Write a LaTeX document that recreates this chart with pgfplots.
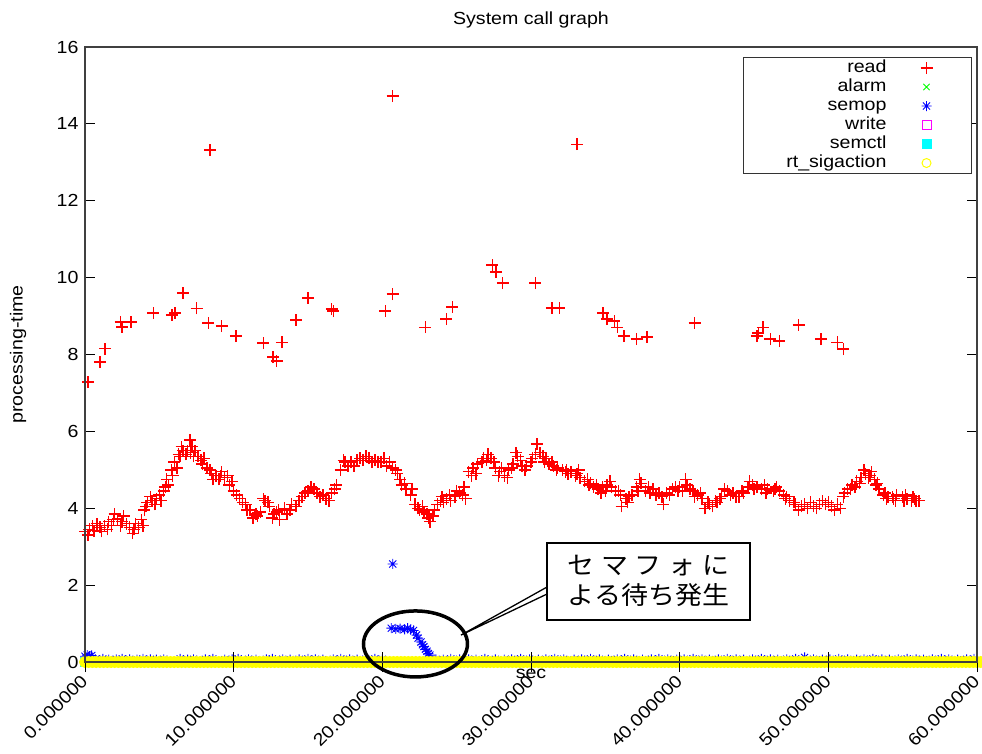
\documentclass[border=0pt]{standalone}
\usepackage{fontspec}
\setmainfont{Liberation Sans}[FakeStretch=1.12]
\newfontfamily\jpfont{Noto Sans CJK JP}[FakeStretch=1.08]
\usepackage{pgfplots}
\pgfplotsset{compat=1.18}
\usetikzlibrary{calc}

\definecolor{gpred}{RGB}{255,0,0}
\definecolor{gpgreen}{RGB}{0,255,0}
\definecolor{gpblue}{RGB}{0,0,255}
\definecolor{gpmagenta}{RGB}{255,0,255}
\definecolor{gpcyan}{RGB}{0,255,255}
\definecolor{gpyellow}{RGB}{255,255,0}

% point marks that carry their own stroke colour
\makeatletter
\pgfdeclareplotmark{gpplus}{%
  \pgfsys@beginscope\pgfsys@color@rgb@stroke{1}{0}{0}%
  \pgfpathmoveto{\pgfqpoint{-\pgfplotmarksize}{0pt}}%
  \pgfpathlineto{\pgfqpoint{\pgfplotmarksize}{0pt}}%
  \pgfpathmoveto{\pgfqpoint{0pt}{-\pgfplotmarksize}}%
  \pgfpathlineto{\pgfqpoint{0pt}{\pgfplotmarksize}}%
  \pgfusepathqstroke\pgfsys@endscope}
% gnuplot-style asterisk: plus and cross overlaid
\pgfdeclareplotmark{gpstar}{%
  \pgfsys@beginscope\pgfsys@color@rgb@stroke{0}{0}{1}%
  \pgfpathmoveto{\pgfqpoint{-\pgfplotmarksize}{0pt}}%
  \pgfpathlineto{\pgfqpoint{\pgfplotmarksize}{0pt}}%
  \pgfpathmoveto{\pgfqpoint{0pt}{-\pgfplotmarksize}}%
  \pgfpathlineto{\pgfqpoint{0pt}{\pgfplotmarksize}}%
  \pgfpathmoveto{\pgfqpoint{-0.707\pgfplotmarksize}{-0.707\pgfplotmarksize}}%
  \pgfpathlineto{\pgfqpoint{0.707\pgfplotmarksize}{0.707\pgfplotmarksize}}%
  \pgfpathmoveto{\pgfqpoint{-0.707\pgfplotmarksize}{0.707\pgfplotmarksize}}%
  \pgfpathlineto{\pgfqpoint{0.707\pgfplotmarksize}{-0.707\pgfplotmarksize}}%
  \pgfusepathqstroke\pgfsys@endscope}
\makeatother

% legend sample: a single mark placed in a wide cell
\pgfplotsset{
  key mark/.style={legend image code/.code={\path[draw=none,fill=none] (0bp,-5bp) rectangle (83bp,5bp);
    \draw[##1] plot coordinates {(40bp,0bp)};}},
  thin key mark/.style={legend image code/.code={\path[draw=none,fill=none] (0bp,-5bp) rectangle (83bp,5bp);
    \draw[##1, mark options={line width=1bp, mark size=4.5bp}] plot coordinates {(40bp,0bp)};}},
}

\begin{document}
\begin{tikzpicture}[font=\fontsize{17.5bp}{21bp}\selectfont]
\begin{axis}[
  set layers, axis on top,
  scale only axis, width=892bp, height=615bp,
  xmin=0, xmax=60, ymin=0, ymax=16,
  clip=false,
  axis line style={draw=black!75, line width=1.1bp},
  every tick/.style={black, line width=0.9bp},
  major tick length=10bp, tick align=inside,
  xtick={0,10,...,60},
  xticklabels={0.000000,10.000000,20.000000,30.000000,40.000000,50.000000,60.000000},
  extra x ticks={0,10,...,60}, extra x tick labels={},
  extra x tick style={tick align=outside},
  xtick pos=bottom, ytick pos=both,
  ytick={0,2,...,16},
  /pgf/number format/assume math mode=true,
  yticklabel style={xshift=-3bp},
  xticklabel style={xshift=-5bp, yshift=-10bp, rotate=45, anchor=north east, inner sep=1bp},
  title={System call graph},
  title style={at={(axis description cs:0.5,1)}, anchor=base, yshift=17bp},
  xlabel={sec},
  xlabel style={at={(axis description cs:0.5,0)}, anchor=base, yshift=-16bp},
  ylabel={processing-time},
  ylabel style={at={(axis description cs:-0.0751,0.5)}, anchor=center},
  legend plot pos=right,
  legend cell align=right,
  key mark,
  legend style={at={(0.9944,0.9837)}, anchor=north east, draw=black!80,
    line width=1bp, fill=white, inner xsep=2bp, inner ysep=2bp, row sep=2bp,
    nodes={inner sep=0pt, text width=141bp, align=right, text height=13bp, text depth=4bp}},
]

% read
\addplot[only marks, mark=gpplus, mark size=6bp, draw=gpred, mark options={line width=1.4bp}] coordinates {
(0.0,3.40)(0.3,3.45)(0.6,3.42)(1.0,3.50)(1.3,3.55)(1.6,3.65)(1.9,3.70)(2.2,3.72)(2.5,3.65)(2.8,3.60)
(3.0,3.50)(3.3,3.45)(3.6,3.50)(3.8,3.70)(4.0,3.95)(4.2,4.15)(4.5,4.20)(4.8,4.25)(5.0,4.35)(5.3,4.45)
(5.5,4.75)(5.8,5.00)(6.0,5.20)(6.3,5.40)(6.6,5.50)(6.9,5.50)(7.1,5.45)(7.4,5.50)(7.6,5.35)(7.9,5.15)
(8.2,5.05)(8.5,4.90)(8.8,4.85)(9.1,4.85)(9.4,4.80)(9.7,4.60)(10.0,4.45)(10.4,4.25)(10.8,4.10)(11.1,3.95)
(11.5,3.85)(11.8,3.90)(12.1,4.20)(12.4,4.05)(12.7,3.85)(13.0,3.95)(13.4,4.00)(13.8,3.95)(14.2,4.05)(14.6,4.30)
(15.0,4.45)(15.4,4.50)(15.8,4.30)(16.2,4.25)(16.6,4.40)(16.9,4.60)(17.2,5.00)(17.5,5.20)(17.9,5.20)(18.3,5.25)
(18.7,5.25)(19.1,5.30)(19.5,5.25)(19.9,5.20)(20.3,5.10)(20.7,5.05)(21.0,4.90)(21.3,4.60)(21.6,4.50)(21.9,4.35)
(22.2,4.10)(22.5,3.95)(22.8,3.90)(23.1,3.75)(23.4,3.80)(23.7,4.10)(24.0,4.30)(24.3,4.25)(24.6,4.20)(24.9,4.30)
(25.2,4.40)(25.5,4.55)(25.8,4.95)(26.1,5.05)(26.4,5.15)(26.7,5.20)(27.0,5.25)(27.3,5.30)(27.6,5.05)(27.9,4.95)
(28.2,4.85)(28.5,5.00)(28.8,5.15)(29.1,5.35)(29.4,5.10)(29.7,5.10)(30.0,5.20)(30.3,5.40)(30.6,5.45)(30.9,5.20)
(31.2,5.15)(31.5,5.10)(31.8,5.05)(32.1,5.00)(32.4,5.00)(32.7,4.95)(33.0,4.85)(33.3,4.80)(33.6,4.70)(33.9,4.60)
(34.2,4.55)(34.5,4.50)(34.8,4.55)(35.1,4.60)(35.4,4.55)(35.7,4.45)(36.0,4.35)(36.4,4.25)(36.8,4.35)(37.1,4.55)
(37.4,4.65)(37.7,4.45)(38.0,4.40)(38.4,4.35)(38.8,4.30)(39.1,4.40)(39.5,4.50)(39.9,4.45)(40.2,4.45)(40.5,4.60)
(40.9,4.45)(41.2,4.35)(41.5,4.25)(41.9,4.15)(42.2,4.05)(42.5,4.15)(42.8,4.30)(43.2,4.45)(43.6,4.40)(44.0,4.30)
(44.3,4.40)(44.6,4.55)(44.9,4.60)(45.2,4.55)(45.5,4.50)(45.9,4.50)(46.3,4.45)(46.7,4.45)(47.0,4.35)(47.4,4.20)
(47.8,4.10)(48.2,4.05)(48.6,4.00)(49.0,4.05)(49.4,4.10)(49.8,4.10)(50.2,4.05)(50.6,4.10)(51.0,4.30)(51.3,4.50)
(51.6,4.60)(51.9,4.70)(52.2,4.80)(52.5,4.90)(52.8,4.85)(53.1,4.75)(53.4,4.50)(53.7,4.35)(54.0,4.30)(54.3,4.30)
(54.6,4.35)(55.0,4.30)(55.3,4.25)(55.6,4.20)(55.9,4.20)(56.1,4.20)
(0.2,3.30)(0.8,3.60)(1.5,3.45)(2.0,3.85)(2.4,3.55)(3.2,3.35)(3.9,3.55)(4.4,4.30)(5.1,4.20)(5.6,4.60)
(6.2,5.05)(6.5,5.60)(7.06,5.78)(7.3,5.35)(8.0,5.30)(8.6,4.75)(9.2,4.95)(9.9,4.70)(10.6,4.15)(11.3,3.75)
(12.0,4.25)(12.6,3.75)(13.1,3.70)(13.9,4.10)(14.8,4.40)(15.6,4.40)(16.4,4.20)(17.4,5.25)(18.1,5.10)(18.9,5.35)
(19.7,5.20)(20.5,5.20)(21.2,4.75)(22.0,4.50)(22.7,4.05)(23.2,3.65)(23.5,3.95)(24.1,4.15)(25.0,4.45)(25.6,4.25)
(26.3,4.90)(27.1,5.40)(27.8,4.85)(28.4,4.80)(29.0,5.45)(29.6,5.00)(30.4,5.67)(31.0,5.30)(31.7,5.00)(32.5,4.90)
(33.2,5.00)(34.0,4.65)(34.7,4.40)(35.3,4.70)(36.1,4.05)(36.6,4.30)(37.3,4.75)(38.2,4.50)(38.9,4.10)(39.7,4.55)
(40.4,4.75)(41.0,4.30)(41.7,4.00)(42.4,4.20)(43.0,4.50)(43.8,4.30)(44.7,4.70)(45.7,4.60)(46.5,4.55)(47.2,4.30)
(48.0,3.95)(48.8,4.15)(49.6,4.20)(50.4,3.95)(51.1,4.40)(51.8,4.55)(52.4,5.00)(52.9,4.95)(53.3,4.65)(53.9,4.25)
(54.5,4.20)(55.2,4.35)(55.8,4.25)
(0.5,3.55)(1.1,3.40)(1.8,3.55)(2.6,3.80)(3.4,3.60)(4.1,4.05)(4.7,4.10)(5.4,4.55)(5.9,4.85)(6.4,5.35)
(6.8,5.40)(7.2,5.60)(7.8,5.25)(8.4,5.00)(9.0,4.75)(9.6,4.85)(10.2,4.35)(10.9,3.95)(11.6,3.80)(12.3,4.15)
(12.9,3.90)(13.6,3.85)(14.4,4.20)(15.2,4.55)(16.0,4.35)(16.8,4.50)(17.7,5.10)(18.5,5.30)(19.3,5.20)(20.1,5.30)
(20.9,5.00)(21.5,4.65)(22.4,4.00)(23.0,3.85)(23.9,4.20)(24.5,4.35)(25.4,4.35)(26.0,4.85)(26.8,5.30)(27.5,5.20)
(28.0,5.05)(28.7,5.05)(29.3,5.25)(30.1,5.30)(30.8,5.35)(31.4,5.20)(32.3,4.95)(33.1,4.90)(33.8,4.75)(34.4,4.60)
(35.0,4.45)(35.9,4.45)(36.5,4.15)(37.2,4.45)(37.9,4.55)(38.6,4.40)(39.3,4.35)(40.0,4.55)(40.7,4.50)(41.4,4.40)
(42.0,4.10)(42.7,4.25)(43.4,4.35)(44.2,4.45)(45.0,4.50)(45.8,4.40)(46.4,4.50)(47.1,4.25)(47.7,4.15)(48.4,4.10)
(49.2,4.00)(50.0,4.15)(50.8,4.00)(51.5,4.50)(52.1,4.65)(52.7,4.80)(53.2,4.60)(53.8,4.40)(54.4,4.25)(55.1,4.20)
(55.7,4.30)
(0.2,7.28)(1.0,7.80)(1.35,8.15)(2.4,8.85)(2.5,8.72)(3.1,8.85)(4.6,9.08)(5.85,9.03)(6.05,9.08)(6.6,9.60)
(7.5,9.20)(8.3,8.82)(8.4,13.32)(9.2,8.74)(10.15,8.48)(12.0,8.30)(12.65,7.93)(12.9,7.83)(13.25,8.32)(14.2,8.90)
(15.0,9.47)(16.6,9.18)(16.7,9.13)(20.2,9.13)(20.7,9.57)(20.7,14.72)(22.9,8.71)(24.3,8.92)(24.7,9.24)(27.4,10.33)
(27.65,10.15)(28.1,9.86)(30.3,9.86)(31.4,9.21)(31.9,9.21)(33.1,13.47)(34.85,9.08)(35.1,8.92)(35.6,8.87)(35.8,8.71)
(36.25,8.48)(37.1,8.40)(37.8,8.46)(41.0,8.82)(45.2,8.48)(45.3,8.56)(45.6,8.71)(46.1,8.40)(46.7,8.35)(48.0,8.77)
(49.5,8.40)(50.6,8.32)(51.0,8.14)
};
\addlegendentry{read}

% alarm
\addplot[only marks, mark=x, mark size=4.5bp, color=gpgreen, mark options={draw=gpgreen, line width=0.8bp}] coordinates {
(0.1,0)(15.2,0.01)(30.3,0)(45.4,0.01)
};
\addlegendentry{alarm}

% semop
\addplot[only marks, mark=gpstar, mark size=5bp, draw=gpblue, mark options={line width=0.9bp}] coordinates {
(0.0,0.15)(0.15,0.18)(0.3,0.15)(0.45,0.17)
(20.7,2.55)
(20.6,0.88)(20.9,0.86)(21.2,0.87)(21.5,0.85)(21.7,0.88)(21.9,0.84)(22.1,0.82)(22.3,0.70)(22.4,0.62)(22.6,0.52)
(22.7,0.45)(22.8,0.40)(22.9,0.33)(23.0,0.28)(23.1,0.22)(23.2,0.18)
(48.4,0.12)
(0.7,0.07)(1.2,0.08)(1.6,0.06)(2.1,0.07)(2.5,0.08)(3.0,0.07)(3.5,0.06)(3.9,0.08)(4.4,0.07)(4.8,0.06)
(5.3,0.07)(6.4,0.08)(6.9,0.06)(7.3,0.07)(8.1,0.07)(8.6,0.08)(9.4,0.06)(9.9,0.07)(10.3,0.08)(11.0,0.07)
(11.5,0.06)(12.2,0.07)(12.6,0.08)(13.3,0.07)(13.8,0.06)(14.4,0.07)(15.0,0.08)(15.5,0.07)(16.0,0.06)(16.7,0.07)
(17.2,0.08)(17.8,0.07)(18.3,0.06)(18.9,0.07)(19.5,0.08)(20.0,0.07)(23.6,0.07)(24.1,0.06)(24.6,0.08)(25.2,0.07)
(25.8,0.07)(26.3,0.06)(26.9,0.08)(27.6,0.07)(28.2,0.06)(28.7,0.07)(29.3,0.08)(29.9,0.07)(30.5,0.06)(31.0,0.07)
(31.6,0.08)(32.2,0.07)(32.9,0.06)(33.4,0.07)(34.0,0.08)(34.6,0.07)(35.2,0.06)(35.8,0.07)(36.3,0.08)(36.9,0.07)
(37.5,0.06)(38.1,0.07)(38.6,0.08)(39.2,0.07)(39.8,0.06)(40.3,0.07)(40.9,0.08)(41.5,0.07)(42.0,0.06)(42.6,0.07)
(43.2,0.08)(43.8,0.07)(44.3,0.06)(44.9,0.07)(45.5,0.08)(46.1,0.07)(46.6,0.06)(47.2,0.07)(47.8,0.08)(49.0,0.07)
(49.6,0.06)(50.1,0.07)(50.7,0.08)(51.3,0.07)(51.9,0.06)(52.4,0.07)(53.0,0.08)(53.6,0.07)(54.1,0.06)(54.7,0.07)
(55.3,0.08)(55.9,0.07)(56.4,0.06)(57.0,0.07)(57.6,0.08)(58.1,0.07)(58.7,0.06)(59.3,0.07)(59.8,0.08)
};
\addlegendentry{semop}

% write
\addplot[only marks, mark=square, mark size=4.5bp, color=gpmagenta, mark options={draw=gpmagenta, line width=1bp}] coordinates {
(0.2,0)(12.6,0)(27.8,0)(41.5,0)(55.0,0)
};
\addlegendentry{write}

% semctl
\addplot[only marks, mark=square*, mark size=4.5bp, color=gpcyan, mark options={draw=gpcyan, fill=gpcyan}] coordinates {
(0.0,0.02)(18.4,0)(21.4,0)(22.4,0)(27.8,0)(57.0,0)
};
\addlegendentry{semctl}

% rt_sigaction
\addplot[only marks, mark=o, mark size=4bp, color=gpyellow, mark options={draw=gpyellow, line width=3.8bp}, thin key mark] coordinates {
(0,0)(0.25,0)(0.5,0)(0.75,0)(1,0)(1.25,0)(1.5,0)(1.75,0)(2,0)(2.25,0)(2.5,0)(2.75,0)
(3,0)(3.25,0)(3.5,0)(3.75,0)(4,0)(4.25,0)(4.5,0)(4.75,0)(5,0)(5.25,0)(5.5,0)(5.75,0)
(6,0)(6.25,0)(6.5,0)(6.75,0)(7,0)(7.25,0)(7.5,0)(7.75,0)(8,0)(8.25,0)(8.5,0)(8.75,0)
(9,0)(9.25,0)(9.5,0)(9.75,0)(10,0)(10.25,0)(10.5,0)(10.75,0)(11,0)(11.25,0)(11.5,0)(11.75,0)
(12,0)(12.25,0)(12.5,0)(12.75,0)(13,0)(13.25,0)(13.5,0)(13.75,0)(14,0)(14.25,0)(14.5,0)(14.75,0)
(15,0)(15.25,0)(15.5,0)(15.75,0)(16,0)(16.25,0)(16.5,0)(16.75,0)(17,0)(17.25,0)(17.5,0)(17.75,0)
(18,0)(18.25,0)(18.5,0)(18.75,0)(19,0)(19.25,0)(19.5,0)(19.75,0)(20,0)(20.25,0)(20.5,0)(20.75,0)
(21,0)(21.25,0)(21.5,0)(21.75,0)(22,0)(22.25,0)(22.5,0)(22.75,0)(23,0)(23.25,0)(23.5,0)(23.75,0)
(24,0)(24.25,0)(24.5,0)(24.75,0)(25,0)(25.25,0)(25.5,0)(25.75,0)(26,0)(26.25,0)(26.5,0)(26.75,0)
(27,0)(27.25,0)(27.5,0)(27.75,0)(28,0)(28.25,0)(28.5,0)(28.75,0)(29,0)(29.25,0)(29.5,0)(29.75,0)
(30,0)(30.25,0)(30.5,0)(30.75,0)(31,0)(31.25,0)(31.5,0)(31.75,0)(32,0)(32.25,0)(32.5,0)(32.75,0)
(33,0)(33.25,0)(33.5,0)(33.75,0)(34,0)(34.25,0)(34.5,0)(34.75,0)(35,0)(35.25,0)(35.5,0)(35.75,0)
(36,0)(36.25,0)(36.5,0)(36.75,0)(37,0)(37.25,0)(37.5,0)(37.75,0)(38,0)(38.25,0)(38.5,0)(38.75,0)
(39,0)(39.25,0)(39.5,0)(39.75,0)(40,0)(40.25,0)(40.5,0)(40.75,0)(41,0)(41.25,0)(41.5,0)(41.75,0)
(42,0)(42.25,0)(42.5,0)(42.75,0)(43,0)(43.25,0)(43.5,0)(43.75,0)(44,0)(44.25,0)(44.5,0)(44.75,0)
(45,0)(45.25,0)(45.5,0)(45.75,0)(46,0)(46.25,0)(46.5,0)(46.75,0)(47,0)(47.25,0)(47.5,0)(47.75,0)
(48,0)(48.25,0)(48.5,0)(48.75,0)(49,0)(49.25,0)(49.5,0)(49.75,0)(50,0)(50.25,0)(50.5,0)(50.75,0)
(51,0)(51.25,0)(51.5,0)(51.75,0)(52,0)(52.25,0)(52.5,0)(52.75,0)(53,0)(53.25,0)(53.5,0)(53.75,0)
(54,0)(54.25,0)(54.5,0)(54.75,0)(55,0)(55.25,0)(55.5,0)(55.75,0)(56,0)(56.25,0)(56.5,0)(56.75,0)
(57,0)(57.25,0)(57.5,0)(57.75,0)(58,0)(58.25,0)(58.5,0)(58.75,0)(59,0)(59.25,0)(59.5,0)(59.75,0)
(60,0)(60.25,0)
};
\addlegendentry{rt\_sigaction}

% callout: pointer wedge, text box and the ring around the semop burst
\begin{pgfonlayer}{axis foreground}
\draw[fill=white, line width=1.3bp] (axis cs:31.08,1.951) -- (axis cs:25.29,0.70) -- (axis cs:31.08,1.769);
\draw[line width=1.6bp, fill=white] (axis cs:31.08,1.093) rectangle (axis cs:44.73,3.096);
\node[align=center, inner sep=0pt, font=\jpfont\fontsize{25bp}{30bp}\selectfont] at (axis cs:37.9,2.12)
  {\makebox[162bp][s]{セ\hfill マ\hfill フ\hfill ォ\hfill に}\\よる待ち発生};
\draw[line width=3.5bp] (axis cs:22.23,0.47) ellipse [x radius=52bp, y radius=33bp];
\end{pgfonlayer}

\coordinate (bl) at (rel axis cs:0,0);
\coordinate (tr) at (rel axis cs:1,1);
\end{axis}
\pgfresetboundingbox
\path ($(bl)+(-85bp,-91bp)$) rectangle ($(tr)+(5bp,47bp)$);
\end{tikzpicture}
\end{document}
